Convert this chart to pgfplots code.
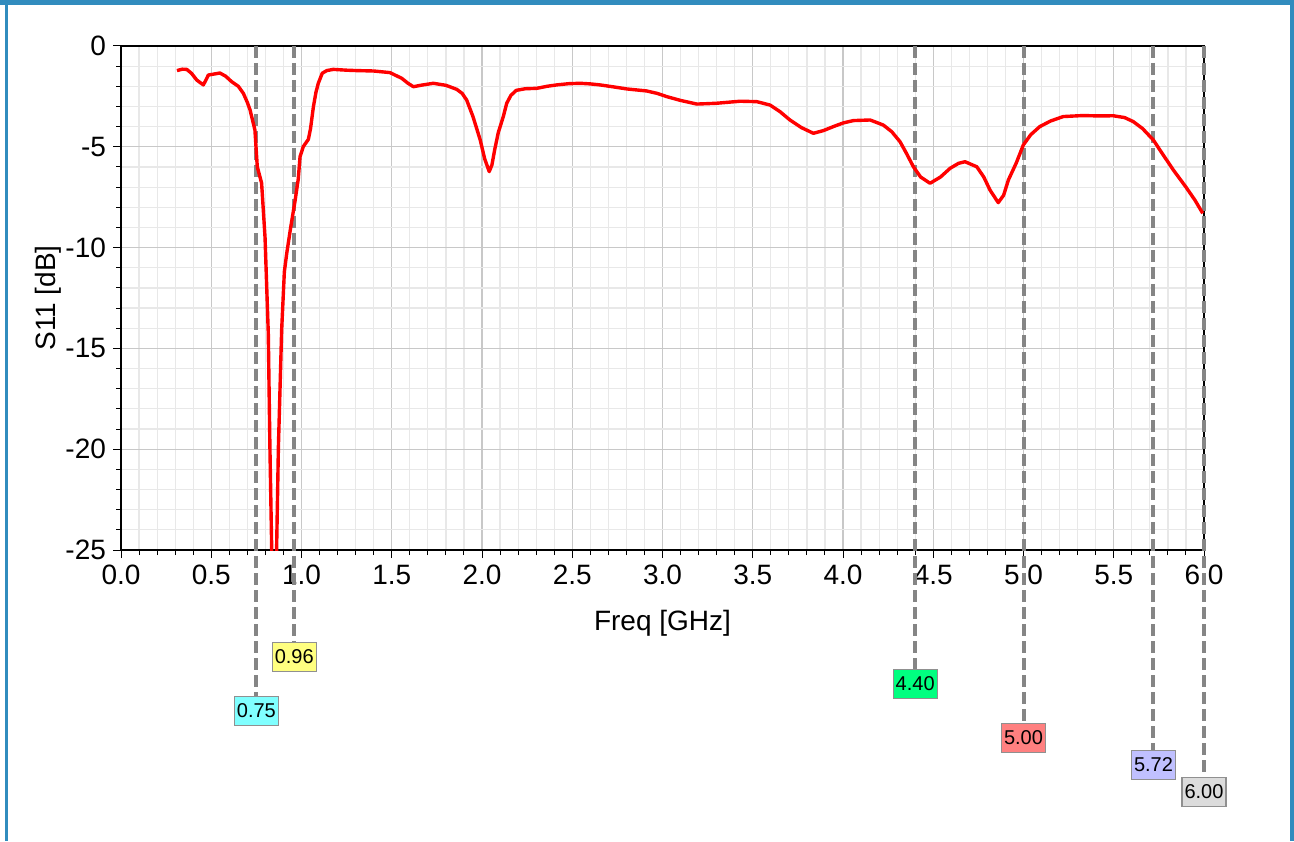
\documentclass[border=0pt]{standalone}
\usepackage{pgfplots}
\pgfplotsset{compat=1.18}
\usepackage{fontspec}
\setmainfont{Liberation Sans}
\definecolor{frameblue}{HTML}{318CBE}
\definecolor{gridmajor}{HTML}{C8C8C8}
\definecolor{gridminor}{HTML}{E8E8E8}
\definecolor{mgray}{HTML}{858585}
\definecolor{bcyan}{HTML}{80FFFF}
\definecolor{byellow}{HTML}{FFFF80}
\definecolor{bgreen}{HTML}{00FF80}
\definecolor{bred}{HTML}{FF8080}
\definecolor{blav}{HTML}{C0C0FF}
\definecolor{bgray}{HTML}{DCDCDC}
\definecolor{bborder}{HTML}{909090}
\pgfplotstableread{
f db
0.31 -1.22
0.34 -1.15
0.364 -1.16
0.39 -1.35
0.42 -1.69
0.456 -1.93
0.47 -1.70
0.484 -1.44
0.51 -1.40
0.548 -1.34
0.58 -1.50
0.613 -1.77
0.65 -2.00
0.678 -2.35
0.70 -2.80
0.715 -3.17
0.742 -4.17
0.755 -5.99
0.779 -6.80
0.798 -9.50
0.816 -14.25
0.825 -19.9
0.835 -25.0
0.848 -31.0
0.862 -25.0
0.872 -19.9
0.89 -14.1
0.905 -11.2
0.918 -10.3
0.94 -9.0
0.964 -7.7
0.982 -6.6
0.992 -5.49
1.01 -4.99
1.038 -4.63
1.05 -4.10
1.066 -3.01
1.08 -2.30
1.093 -1.85
1.115 -1.35
1.14 -1.22
1.176 -1.16
1.25 -1.20
1.306 -1.22
1.40 -1.24
1.49 -1.32
1.52 -1.45
1.555 -1.60
1.59 -1.85
1.62 -2.02
1.66 -1.95
1.73 -1.85
1.80 -1.95
1.86 -2.15
1.89 -2.35
1.915 -2.68
1.95 -3.50
1.99 -4.66
2.015 -5.60
2.04 -6.23
2.055 -5.90
2.07 -5.16
2.09 -4.30
2.118 -3.50
2.137 -2.84
2.16 -2.45
2.19 -2.20
2.24 -2.12
2.303 -2.10
2.36 -2.00
2.414 -1.93
2.48 -1.87
2.543 -1.85
2.60 -1.88
2.654 -1.93
2.73 -2.03
2.802 -2.13
2.912 -2.23
2.97 -2.35
3.023 -2.51
3.10 -2.70
3.19 -2.88
3.25 -2.86
3.30 -2.84
3.43 -2.74
3.522 -2.76
3.596 -2.93
3.65 -3.25
3.706 -3.67
3.77 -4.05
3.836 -4.33
3.89 -4.20
3.946 -4.00
4.00 -3.82
4.057 -3.70
4.15 -3.67
4.223 -3.92
4.27 -4.25
4.316 -4.75
4.35 -5.30
4.39 -5.99
4.43 -6.50
4.482 -6.81
4.54 -6.50
4.593 -6.07
4.64 -5.82
4.676 -5.74
4.741 -5.99
4.78 -6.50
4.814 -7.14
4.86 -7.77
4.89 -7.40
4.916 -6.65
4.96 -5.80
4.999 -4.91
5.04 -4.40
5.09 -4.00
5.15 -3.72
5.22 -3.50
5.33 -3.45
5.42 -3.47
5.497 -3.46
5.56 -3.55
5.608 -3.75
5.66 -4.10
5.719 -4.66
5.77 -5.35
5.83 -6.15
5.90 -7.00
5.95 -7.65
5.993 -8.30
}\sparam
\tikzset{
  mline/.style={mgray, line width=2pt, dash pattern=on 6pt off 2.5pt},
  mbox/.style={draw=bborder, line width=0.6pt, minimum width=22pt, minimum height=14.5pt, inner sep=1pt, anchor=north, font=\fontsize{10}{10}\selectfont},
}
\begin{document}
\begin{tikzpicture}[x=1pt,y=1pt]
\fill[white] (0,0) rectangle (647,420.5);
\fill[frameblue] (0,418) rectangle (647,420.5);
\fill[frameblue] (2.5,0) rectangle (4,420.5);
\fill[frameblue] (645,0) rectangle (647,420.5);
\begin{axis}[
  at={(60.5pt,145.5pt)}, anchor=south west,
  scale only axis, width=541.5pt, height=252pt,
  xmin=0, xmax=6, ymin=-25, ymax=0,
  xtick={0,0.5,...,6}, ytick={-25,-20,...,0},
  minor x tick num=4, minor y tick num=4,
  grid=both,
  major grid style={color=gridmajor, line width=0.6pt},
  minor grid style={color=gridminor, line width=0.6pt},
  tick align=outside, tick pos=left,
  major tick length=4pt, minor tick length=2.5pt,
  tick style={black, line width=0.5pt},
  axis line style={black, line width=0.7pt},
  x tick label style={/pgf/number format/fixed, /pgf/number format/fixed zerofill, /pgf/number format/precision=1},
  /pgf/number format/assume math mode=true,
  ticklabel style={font=\fontsize{14}{14}\selectfont},
  label style={font=\fontsize{14}{14}\selectfont},
  xlabel={Freq [GHz]}, ylabel={S11 [dB]},
  xlabel style={at={(rel axis cs:0.5,0)}, anchor=center, yshift=-36.5pt},
  ylabel style={at={(rel axis cs:0,0.5)}, anchor=center, yshift=36.5pt},
  clip mode=individual,
]
\draw[mline] (axis cs:0.75,0) -- (axis cs:0.75,-32.24);
\draw[mline] (axis cs:0.96,0) -- (axis cs:0.96,-29.56);
\draw[mline] (axis cs:4.40,0) -- (axis cs:4.40,-30.90);
\draw[mline] (axis cs:5.00,0) -- (axis cs:5.00,-33.58);
\draw[mline] (axis cs:5.72,0) -- (axis cs:5.72,-34.92);
\draw[mline] (axis cs:6.00,0) -- (axis cs:6.00,-36.26);
\addplot[red, line width=1.7pt, line join=round, no markers] table[x=f, y=db] {\sparam};
\node[mbox, fill=bcyan] at (axis cs:0.75,-32.24) {0.75};
\node[mbox, fill=byellow] at (axis cs:0.96,-29.56) {0.96};
\node[mbox, fill=bgreen] at (axis cs:4.40,-30.90) {4.40};
\node[mbox, fill=bred] at (axis cs:5.00,-33.58) {5.00};
\node[mbox, fill=blav] at (axis cs:5.72,-34.92) {5.72};
\node[mbox, fill=bgray] at (axis cs:6.00,-36.26) {6.00};
\end{axis}
\pgfresetboundingbox
\path (0,0) rectangle (647,420.5);
\end{tikzpicture}
\end{document}
